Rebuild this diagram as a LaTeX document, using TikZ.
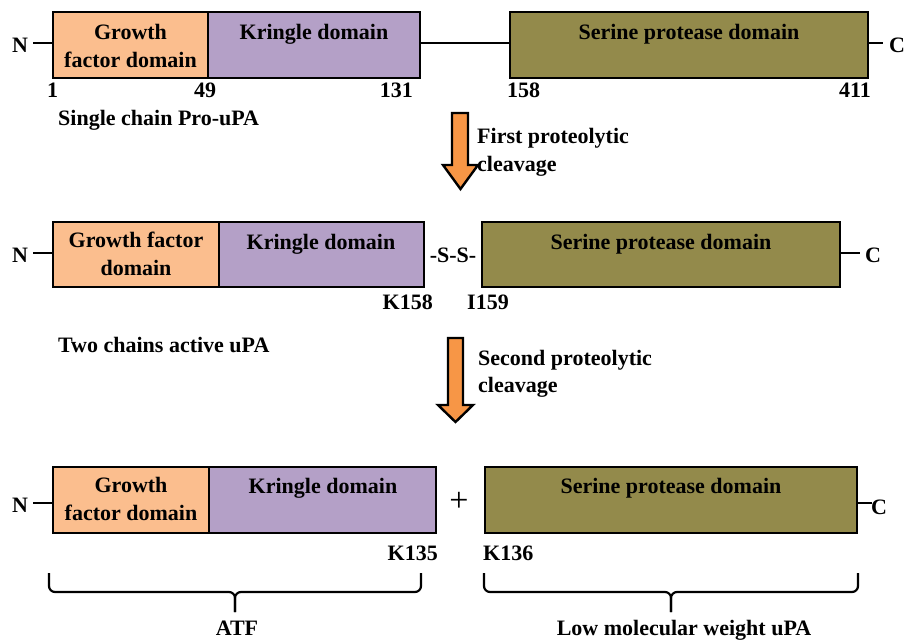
\documentclass[tikz,border=0pt]{standalone}
\usepackage{fontspec}
\setmainfont{Liberation Serif}
\definecolor{gfc}{HTML}{FBBE8E}
\definecolor{krc}{HTML}{B4A0C7}
\definecolor{sec}{HTML}{938A4B}
\definecolor{arc}{HTML}{F79646}
\tikzset{
  dom/.style={draw=black, line width=2.6pt, anchor=north west, inner sep=0pt, outer sep=0pt},
  lbl/.style={inner sep=0pt, font=\bfseries\fontsize{22}{28}\selectfont, align=center},
  conn/.style={line width=1.8pt},
  blockarrow/.style={draw=black, fill=arc, line width=2.4pt, line join=miter},
  bracestyle/.style={line width=2.2pt, rounded corners=6pt}
}
\begin{document}
\begin{tikzpicture}[x=1pt,y=-1pt]
\useasboundingbox (0,0) rectangle (908,640);

% ---------- Row 1 ----------
\node[dom, fill=gfc, minimum width=155, minimum height=66] (gf1) at (53,12) {};
\node[dom, fill=krc, minimum width=212, minimum height=66] (kr1) at (208,12) {};
\node[dom, fill=sec, minimum width=358, minimum height=66] (se1) at (510,12) {};
\node[lbl, anchor=base] (gf1t) at (130.5,67) {Growth\\factor domain};
\node[lbl, anchor=base] (kr1t) at (314,39) {Kringle domain};
\node[lbl, anchor=base] (se1t) at (689,39) {Serine protease domain};
\node[lbl, anchor=base west] (n1) at (12,52) {N};
\node[lbl, anchor=base west] (c1) at (889,52) {C};
\draw[conn] (33,43) coordinate (n1e) -- (gf1.west |- n1e);
\draw[conn] (kr1.east |- n1e) -- (se1.west |- n1e);
\draw[conn] (se1.east |- n1e) -- (883,43) coordinate (c1w);
\node[lbl, anchor=base west] (p1) at (47,97) {1};
\node[lbl, anchor=base] (p49) at (205,97) {49};
\node[lbl, anchor=base east] (p131) at (413,97) {131};
\node[lbl, anchor=base west] (p158) at (507,97) {158};
\node[lbl, anchor=base east] (p411) at (871,97) {411};
\node[lbl, anchor=base west] (t1) at (58,125) {Single chain Pro-uPA};

% arrow 1
\draw[blockarrow] (452,113) -- (468,113) -- (468,165) -- (478,165) -- (460.5,189) -- (443,165) -- (452,165) -- cycle;
\node[lbl, anchor=base west] (a1t) at (477,143) {First proteolytic};
\node[lbl, anchor=base west] (a1t2) at (477,171) {cleavage};

% ---------- Row 2 ----------
\node[dom, fill=gfc, minimum width=166, minimum height=65] (gf2) at (53,222) {};
\node[dom, fill=krc, minimum width=205, minimum height=65] (kr2) at (219,222) {};
\node[dom, fill=sec, minimum width=358, minimum height=65] (se2) at (482,222) {};
\node[lbl, anchor=base] (gf2t) at (136,275) {Growth factor\\domain};
\node[lbl, anchor=base] (kr2t) at (321,249) {Kringle domain};
\node[lbl, anchor=base] (se2t) at (661,249) {Serine protease domain};
\node[lbl, anchor=base] (ss) at (453,262) {-S-S-};
\node[lbl, anchor=base west] (n2) at (12,262) {N};
\node[lbl, anchor=base west] (c2) at (865,262) {C};
\draw[conn] (33,253) coordinate (n2e) -- (gf2.west |- n2e);
\draw[conn] (se2.east |- n2e) -- (860,253) coordinate (c2w);
\node[lbl, anchor=base east] (k158) at (433,309) {K158};
\node[lbl, anchor=base west] (i159) at (467,309) {I159};
\node[lbl, anchor=base west] (t2) at (58,352) {Two chains active uPA};

% arrow 2
\draw[blockarrow] (448,338) -- (463,338) -- (463,405) -- (473,405) -- (455.5,422) -- (438,405) -- (448,405) -- cycle;
\node[lbl, anchor=base west] (a2t) at (478,365) {Second proteolytic};
\node[lbl, anchor=base west] (a2t2) at (478,392) {cleavage};

% ---------- Row 3 ----------
\node[dom, fill=gfc, minimum width=156, minimum height=66] (gf3) at (53,467) {};
\node[dom, fill=krc, minimum width=227, minimum height=66] (kr3) at (209,467) {};
\node[dom, fill=sec, minimum width=372, minimum height=66] (se3) at (485,467) {};
\node[lbl, anchor=base] (gf3t) at (131,520) {Growth\\factor domain};
\node[lbl, anchor=base] (kr3t) at (323,493) {Kringle domain};
\node[lbl, anchor=base] (se3t) at (671,493) {Serine protease domain};
\node[lbl, anchor=base west] (n3) at (12,512) {N};
\node[lbl, anchor=base west] (c3) at (871,514) {C};
\node[lbl, anchor=center, font=\fontsize{34}{36}\selectfont] (plus) at (459,502) {+};
\draw[conn] (33,503) coordinate (n3e) -- (gf3.west |- n3e);
\draw[conn] (se3.east |- n3e) -- (872,503) coordinate (c3w);
\node[lbl, anchor=base east] (k135) at (438,560) {K135};
\node[lbl, anchor=base west] (k136) at (483,560) {K136};

% braces
\coordinate (b1l) at (49,573);
\coordinate (b1r) at (421,573);
\coordinate (b1m) at (235,592);
\coordinate (b1t) at (235,612);
\draw[bracestyle] (b1l) |- (b1m) -- (b1t);
\draw[bracestyle] (b1r) |- (b1m) -- (b1t);
\coordinate (b2l) at (484,573);
\coordinate (b2r) at (858,573);
\coordinate (b2m) at (671,592);
\coordinate (b2t) at (671,612);
\draw[bracestyle] (b2l) |- (b2m) -- (b2t);
\draw[bracestyle] (b2r) |- (b2m) -- (b2t);
\node[lbl, anchor=base] (atf) at (237,635) {ATF};
\node[lbl, anchor=base] (lmw) at (684,635) {Low molecular weight uPA};
\end{tikzpicture}
\end{document}
